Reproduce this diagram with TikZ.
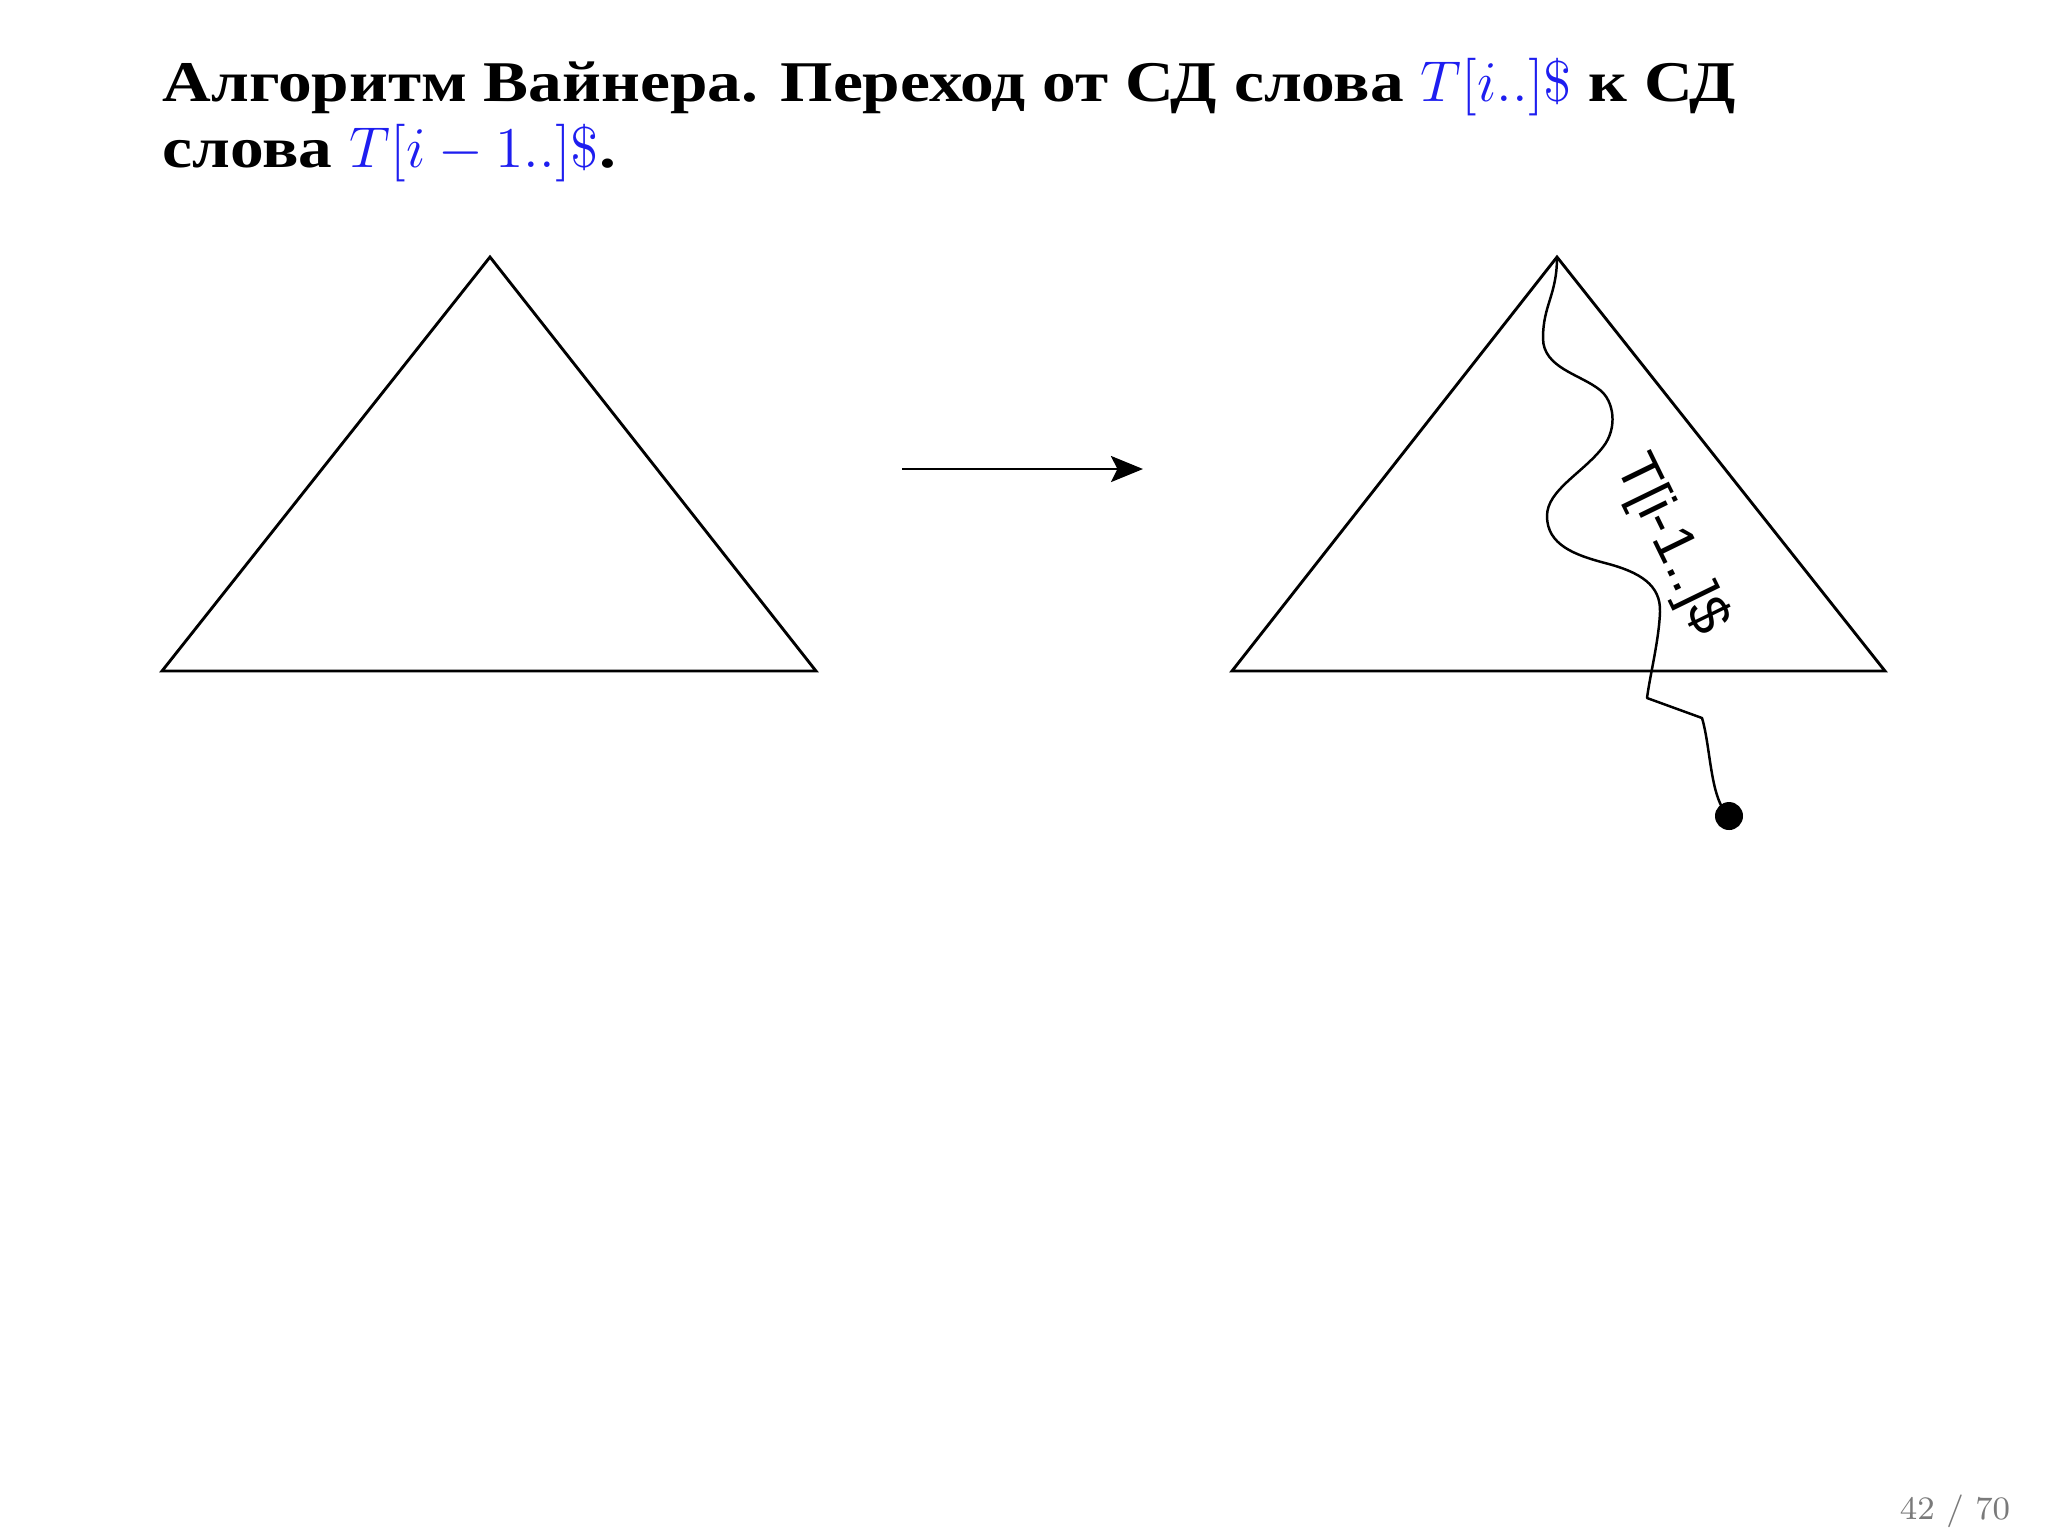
\documentclass[tikz,border=0pt]{standalone}
\usepackage{fix-cm}
\usepackage[no-math]{fontspec}
\setmainfont{Liberation Serif}
\newfontfamily\titlefont[FakeStretch=1.17]{Liberation Serif}
\newfontfamily\labelfont{Liberation Sans}
\newfontfamily\lmfont{Latin Modern Roman}
\usetikzlibrary{arrows.meta}
\definecolor{mathblue}{RGB}{30,30,240}
\tikzset{
  titletext/.style={anchor=base west, inner sep=0pt, font=\titlefont\bfseries\fontsize{14.4}{17}\selectfont},
  shape line/.style={line width=0.72pt, line join=miter},
  wave/.style={line width=0.62pt, line join=round},
  pathlabel/.style={font=\labelfont\fontsize{14.2}{16}\selectfont, inner sep=0pt},
  pagenum/.style={anchor=base, inner sep=0pt, text=black!52, font=\lmfont\fontsize{8.2}{10}\selectfont},
  bigarrow/.style={line width=0.72pt, -{Stealth[length=8pt,width=6.5pt,inset=1.6pt]}}
}
\begin{document}
\begin{tikzpicture}[x=0.25pt,y=-0.25pt]
\useasboundingbox (0,0) rectangle (2048,1536);
\fill[white] (0,0) rectangle (2048,1536);
% title
\node[titletext] (t1) at (162,101) {Алгоритм Вайнера. Переход от СД слова \textcolor{mathblue}{$T[i..]\$$} к СД};
\node[titletext] (t2) at (162,167) {слова \textcolor{mathblue}{$T[i-1..]\$$}.};
% left triangle
\coordinate (la) at (490,257);
\coordinate (lb) at (162,671);
\coordinate (lc) at (816,671);
\draw[shape line] (la) -- (lb) -- (lc) -- cycle;
% arrow
\coordinate (a1) at (902,469);
\coordinate (a2) at (1143,469);
\draw[bigarrow] (a1) -- (a2);
% right triangle
\coordinate (ra) at (1557,257);
\coordinate (rb) at (1232,671);
\coordinate (rc) at (1885,671);
\draw[shape line] (ra) -- (rb) -- (rc) -- cycle;
% wavy path
\coordinate (corner) at (1647,698);
\coordinate (bend) at (1702,718);
\coordinate (leaf) at (1729,816);
\draw[wave] (ra)
  .. controls (1557,295) and (1543,305) .. (1543,338)
  .. controls (1543,368) and (1580,374) .. (1600,390)
  .. controls (1614,401) and (1618,428) .. (1603,447)
  .. controls (1583,473) and (1547,490) .. (1547,516)
  .. controls (1547,545) and (1575,555) .. (1605,563)
  .. controls (1640,572) and (1661,585) .. (1660,612)
  .. controls (1659,640) and (1650,675) .. (corner)
  -- (bend)
  .. controls (1711,748) and (1710,800) .. (leaf);
\fill (leaf) circle[radius=14];
\node[pathlabel, rotate=-64] (lbl) at (1671,545) {T[i-1..]\$};
% page number
\node[pagenum] (pg) at (1955,1519) {42 / 70};
\end{tikzpicture}
\end{document}
